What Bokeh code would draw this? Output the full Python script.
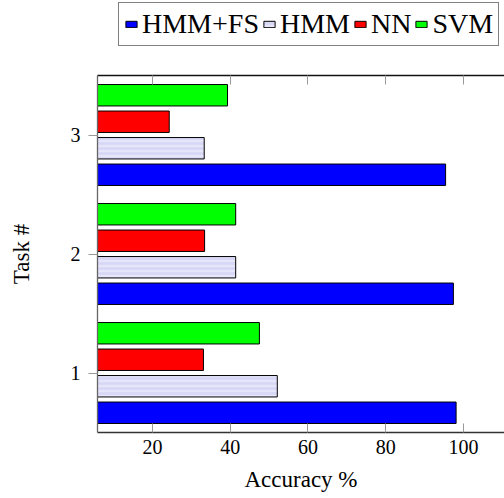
from bokeh.plotting import figure
from bokeh.layouts import column
from bokeh.models import (ColumnDataSource, Range1d, FixedTicker, LinearAxis,
                          Legend, LegendItem)
from bokeh.transform import dodge
from bokeh.embed import file_html
from bokeh.resources import INLINE

tasks = [1, 2, 3]
task_labels = ["1", "2", "3"]
hmm_fs = [98.1, 97.4, 95.4]
hmm = [52.1, 41.4, 33.3]
nn = [33.1, 33.4, 24.3]
svm = [47.5, 41.4, 39.3]
x_ticks = [20, 40, 60, 80, 100]
series_names = ["HMM+FS", "HMM", "NN", "SVM"]

src = ColumnDataSource(dict(task=tasks, hmm_fs=hmm_fs, hmm=hmm, nn=nn, svm=svm))

SERIF = "Liberation Serif"
W = 504
LEG_H = 50

p = figure(width=W, height=498 - LEG_H, output_backend="svg", toolbar_location=None,
           x_range=Range1d(5.85, 110.55), y_range=Range1d(0.5, 3.5),
           x_axis_location=None, y_axis_location=None,
           min_border_left=97, min_border_right=0, min_border_top=75 - LEG_H,
           min_border_bottom=66)
p.outline_line_color = None
p.xgrid.visible = False
p.ygrid.visible = False

step = 0.2227
bh = 0.18
cols = ["hmm_fs", "hmm", "nn", "svm"]
offsets = [-1.5 * step, -0.5 * step, 0.5 * step, 1.5 * step]
fills = ["#0000ff", "#e6e6fa", "#ff0000", "#00ff00"]
styles = []
for col, off, fc in zip(cols, offsets, fills):
    kw = dict(fill_color=fc, line_color="#000000", line_width=1)
    if col == "hmm":
        kw.update(hatch_pattern="horizontal_line", hatch_color="#d6d6f6",
                  hatch_scale=5, hatch_weight=2.5)
    styles.append(kw)
    p.hbar(y=dodge("task", off, range=p.y_range), right=col, left=0,
           height=bh, source=src, **kw)

def style_axis(ax):
    ax.axis_line_color = "#333333"
    ax.axis_line_width = 1.3
    ax.major_tick_line_color = "#999999"
    ax.major_tick_line_width = 1
    ax.minor_tick_line_color = None
    ax.major_label_text_font = SERIF
    ax.major_label_text_font_size = "20px"
    ax.major_label_text_color = "#000000"
    ax.axis_label_text_font = SERIF
    ax.axis_label_text_font_size = "23px"
    ax.axis_label_text_font_style = "normal"
    ax.axis_label_text_color = "#000000"

xb = LinearAxis(ticker=FixedTicker(ticks=x_ticks), axis_label="Accuracy %")
style_axis(xb)
xb.major_tick_in = 9
xb.major_tick_out = 0
xb.major_label_standoff = 7
xb.axis_label_standoff = 10
p.add_layout(xb, "below")

xt = LinearAxis(ticker=FixedTicker(ticks=x_ticks))
style_axis(xt)
xt.axis_line_color = "#111111"
xt.major_tick_in = 9
xt.major_tick_out = 0
xt.major_label_text_color = None
xt.major_label_standoff = 0
p.add_layout(xt, "above")

yl = LinearAxis(ticker=FixedTicker(ticks=tasks), axis_label="Task #",
                major_label_overrides={t: s for t, s in zip(tasks, task_labels)})
style_axis(yl)
yl.axis_line_color = "#666666"
yl.major_tick_in = 0
yl.major_tick_out = 9
yl.major_label_standoff = 8
yl.axis_label_standoff = 34
p.add_layout(yl, "left")

# legend strip above the chart (swatches use a point outside its view)
lf = figure(width=W, height=LEG_H, output_backend="svg", toolbar_location=None,
            x_range=Range1d(0, 1), y_range=Range1d(0, 1),
            x_axis_location=None, y_axis_location=None,
            min_border_left=97, min_border_right=0, min_border_top=0,
            min_border_bottom=0)
lf.outline_line_color = None
lf.xgrid.visible = False
lf.ygrid.visible = False
swatch = ColumnDataSource(dict(y=[-5], right=[-5]))
leg_renderers = [lf.hbar(y="y", right="right", left=-6, height=0.1, source=swatch, **kw)
                 for kw in styles]
legend = Legend(items=[LegendItem(label=n, renderers=[r]) for n, r in zip(series_names, leg_renderers)],
                orientation="horizontal", location=(21, 4), margin=0,
                padding=5, spacing=3, label_standoff=4,
                glyph_width=14, glyph_height=8,
                label_text_font=SERIF, label_text_font_size="28px",
                label_text_color="#000000",
                border_line_color="#000000", border_line_width=1.3,
                background_fill_alpha=1)
lf.add_layout(legend, "center")

layout = column(lf, p, spacing=0)
open("out.html", "w").write(file_html(layout, INLINE))
